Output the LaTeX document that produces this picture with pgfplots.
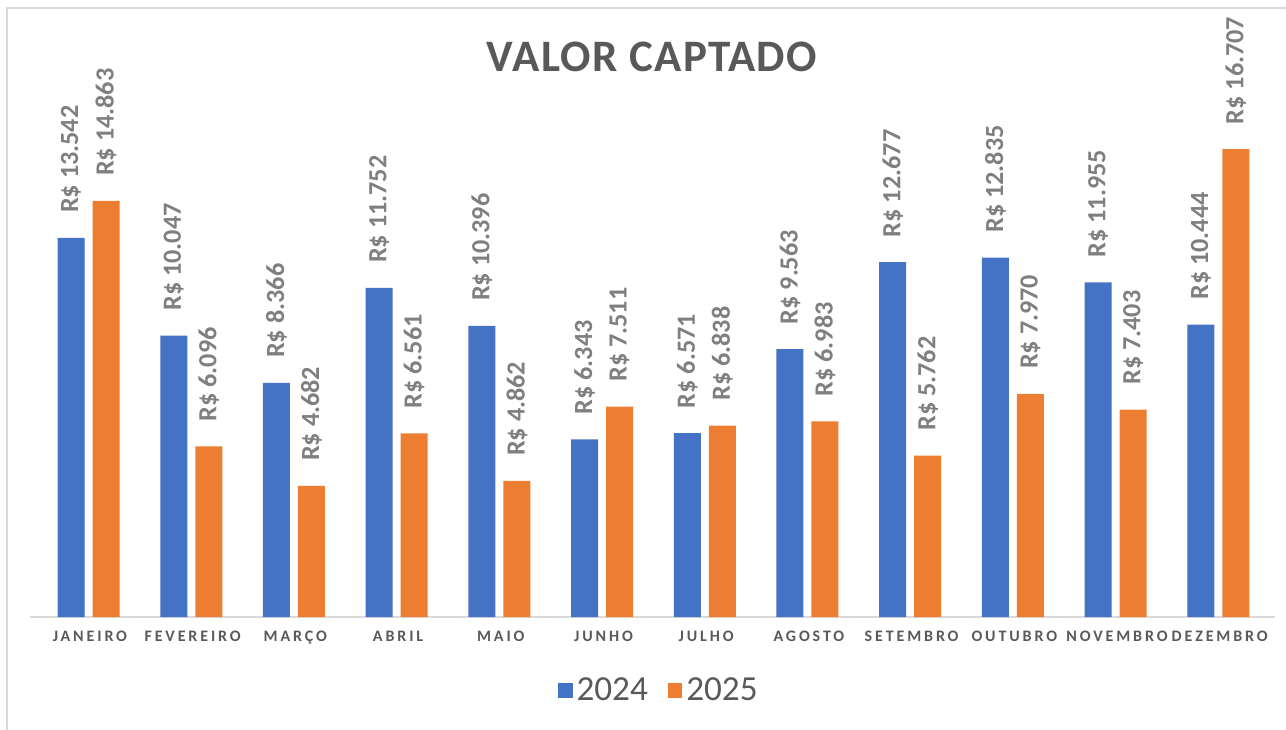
\documentclass[border=0pt]{standalone}
\usepackage{fontspec}
\setmainfont{Carlito}
\newfontfamily\spaced[LetterSpace=18]{Carlito}
\newfontfamily\titlefont[LetterSpace=3]{Carlito}
\usepackage{pgfplots}
\pgfplotsset{compat=1.18}
\definecolor{cblue}{HTML}{4472C4}
\definecolor{corange}{HTML}{ED7D31}
\definecolor{lblgray}{HTML}{7F7F7F}
\definecolor{txtgray}{HTML}{595959}
\definecolor{linegray}{HTML}{D9D9D9}
\begin{document}
\begin{tikzpicture}
\path[use as bounding box] (0,0) rectangle (643pt,364.5pt);
\draw[linegray, line width=0.8pt] (3.5pt,-5pt) -- (3.5pt,360.5pt) -- (650pt,360.5pt);
\node[txtgray, font=\titlefont\bfseries\fontsize{22.5}{26}\selectfont] at (326pt,336pt) {VALOR CAPTADO};
\begin{axis}[
  at={(15pt,56pt)}, anchor=south west,
  scale only axis, width=622.4pt, height=280pt,
  xmin=-0.57, xmax=11.55, ymin=0, ymax=20000,
  clip=false,
  axis x line*=bottom, axis y line=none,
  x axis line style={linegray, line width=0.8pt, -},
  xtick={0,...,11},
  xticklabels={JANEIRO,FEVEREIRO,MARÇO,ABRIL,MAIO,JUNHO,JULHO,AGOSTO,SETEMBRO,OUTUBRO,NOVEMBRO,DEZEMBRO},
  major tick length=0pt,
  xticklabel style={txtgray, font=\spaced\bfseries\fontsize{8}{9}\selectfont, inner sep=0pt, anchor=north, yshift=-7pt, xshift=0.7pt},
  ybar, bar width=13.5pt,
  /pgf/number format/1000 sep={.},
  /pgf/number format/assume math mode=true,
  nodes near coords={R\$ \pgfmathprintnumber{\pgfplotspointmeta}},
  every node near coord/.append style={lblgray, font=\bfseries\fontsize{13.1}{16}\selectfont, rotate=90, anchor=west, inner sep=0pt, xshift=12.3pt},
  legend style={at={(axis description cs:0.506,-0.131)}, anchor=center, draw=none, fill=none,
    legend columns=2, font=\fontsize{17.6}{20}\selectfont\color{txtgray},
    /tikz/every even column/.append style={column sep=8pt}},
  legend image code/.code={\fill[#1] (0pt,-3.6pt) rectangle (7.2pt,3.6pt);},
]
\addplot[fill=cblue, draw=none, bar shift=-8.75pt] coordinates {
(0,13542) (1,10047) (2,8366) (3,11752) (4,10396) (5,6343) (6,6571) (7,9563) (8,12677) (9,12835) (10,11955) (11,10444)};
\addplot[fill=corange, draw=none, bar shift=8.75pt] coordinates {
(0,14863) (1,6096) (2,4682) (3,6561) (4,4862) (5,7511) (6,6838) (7,6983) (8,5762) (9,7970) (10,7403) (11,16707)};
\legend{2024,2025}
\end{axis}
\end{tikzpicture}
\end{document}
